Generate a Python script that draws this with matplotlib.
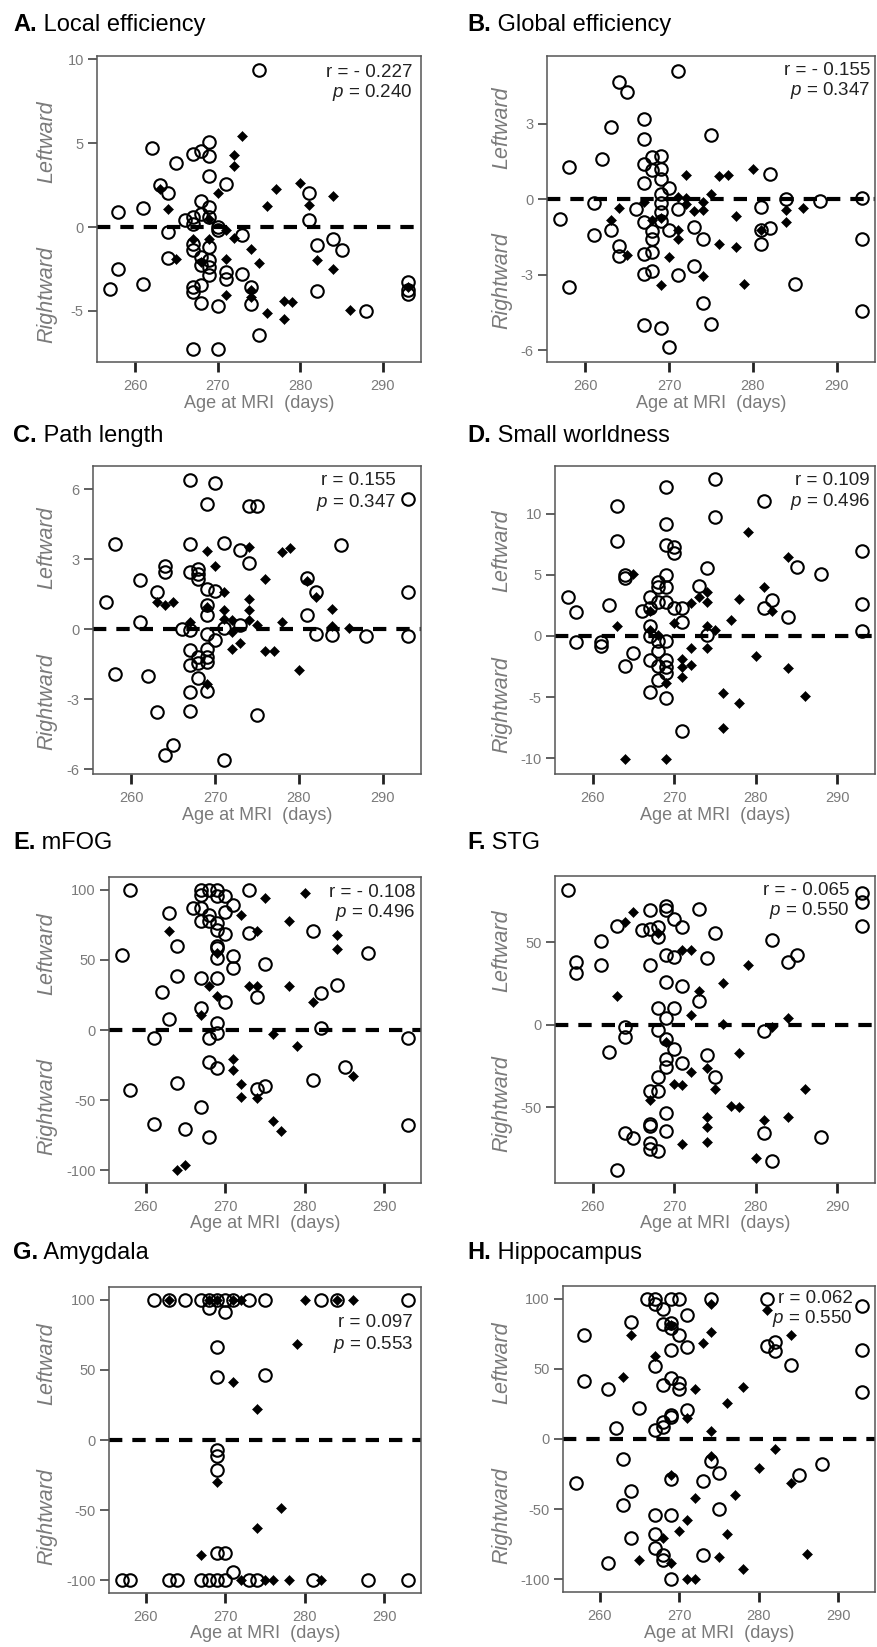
import matplotlib
matplotlib.use("Agg")
import matplotlib.pyplot as plt
import matplotlib.transforms as mtransforms

plt.rcParams.update({
    "font.family":       ["Liberation Sans", "DejaVu Sans"],
    "mathtext.fontset":  "custom",
    "mathtext.rm":       "Liberation Sans",
    "mathtext.it":       "Liberation Sans:italic",
    "axes.unicode_minus": False,
})

W, H = 878, 1647
GREY = "#7a7a7a"
XLIM = (255.4, 294.6)
XTICKS = [260, 270, 280, 290]

# ── data: open circles / filled diamonds, (age in days, asymmetry) ────────────

a_circ_age = [275, 262, 265, 267, 268, 269, 269, 269, 271, 263, 264, 258, 261, 268, 269,
              266, 267, 267, 268, 269, 270, 270, 264, 273, 267, 267, 269, 264, 268, 268,
              269, 269, 269, 271, 271, 273, 258, 257, 261, 267, 267, 268, 268, 270, 274,
              274, 275, 267, 270, 281, 281, 282, 284, 285, 282, 288, 293, 293, 293]
a_circ_val = [9.35, 4.72, 3.81, 4.33, 4.56, 5.06, 4.21, 3.02, 2.58, 2.52, 2.02, 0.89, 1.15, 1.53, 1.19,
              0.40, 0.60, 0.20, 0.79, 0.60, 0.00, -0.20, -0.30, -0.46, -1.00, -1.35, -1.20, -1.83, -1.79, -2.28,
              -1.98, -2.38, -2.84, -2.68, -3.08, -2.78, -2.48, -3.67, -3.41, -3.57, -3.87, -3.43, -4.52, -4.72, -3.57,
              -4.60, -6.45, -7.30, -7.30, 2.02, 0.44, -1.05, -0.69, -1.39, -3.83, -5.00, -3.27, -3.77, -3.97]
a_dia_age = [273, 272, 272, 270, 263, 264, 277, 276, 280, 281, 284, 269, 271, 272, 267, 269,
             274, 265, 271, 275, 268, 282, 284, 271, 274, 274, 276, 278, 279, 278, 286, 293]
a_dia_val = [5.40, 4.27, 3.61, 2.02, 2.28, 1.05, 2.28, 1.23, 2.62, 1.33, 1.88, 0.50, -0.20, -0.65, -0.69, -0.69,
             -1.29, -1.88, -1.88, -2.12, -2.08, -1.98, -2.48, -4.03, -3.77, -4.17, -5.12, -4.42, -4.46, -5.50, -4.96, -3.57]

b_circ_age = [271, 264, 265, 263, 267, 267, 275, 262, 258, 268, 269, 267, 268, 269, 269,
              267, 270, 269, 282, 261, 257, 266, 269, 269, 271, 267, 269, 270, 268, 268,
              261, 263, 264, 264, 273, 274, 267, 268, 267, 268, 271, 273, 258, 281, 284,
              288, 281, 282, 281, 285, 274, 267, 269, 275, 270, 293, 293, 293]
b_circ_val = [5.08, 4.64, 4.28, 2.87, 3.17, 2.39, 2.56, 1.60, 1.28, 1.69, 1.73, 1.41, 1.15, 1.21, 0.82,
              0.65, 0.43, 0.23, 0.99, -0.13, -0.77, -0.39, -0.16, -0.51, -0.39, -0.91, -0.87, -1.20, -1.26, -1.56,
              -1.43, -1.23, -1.85, -2.24, -1.10, -1.59, -2.18, -2.11, -2.96, -2.83, -3.00, -2.63, -3.48, -0.29, 0.00,
              -0.07, -1.20, -1.13, -1.79, -3.35, -4.13, -4.98, -5.11, -4.95, -5.85, 0.04, -1.59, -4.43]
b_dia_age = [272, 276, 277, 280, 275, 271, 272, 267, 274, 264, 263, 268, 269, 272, 273,
             274, 278, 284, 286, 284, 271, 271, 276, 278, 281, 265, 270, 274, 269, 279]
b_dia_val = [0.95, 0.93, 0.95, 1.21, 0.23, 0.10, 0.04, -0.09, -0.09, -0.35, -0.81, -0.81, -0.74, -0.18, -0.48,
             -0.42, -0.65, -0.44, -0.35, -0.91, -1.20, -1.56, -1.79, -1.89, -1.20, -2.22, -2.28, -3.05, -3.42, -3.35]

c_circ_age = [267, 270, 269, 274, 275, 293, 258, 267, 271, 273, 274, 285, 264, 264, 261,
              267, 268, 268, 268, 269, 270, 263, 257, 281, 282, 293, 269, 269, 261, 281,
              266, 267, 271, 273, 269, 270, 282, 284, 288, 293, 267, 268, 268, 269, 269,
              267, 269, 268, 258, 262, 267, 269, 263, 267, 275, 264, 265, 271]
c_circ_val = [6.39, 6.27, 5.36, 5.27, 5.27, 5.57, 3.67, 3.64, 3.70, 3.41, 2.84, 3.63, 2.71, 2.46, 2.10,
              2.46, 2.60, 2.39, 2.17, 1.74, 1.63, 1.60, 1.17, 2.20, 1.60, 1.60, 1.03, 0.63, 0.31, 0.60,
              0.03, -0.04, 0.06, 0.17, -0.19, -0.47, -0.19, -0.26, -0.29, -0.29, -0.90, -1.19, -1.43, -1.19, -1.40,
              -1.51, -0.83, -2.09, -1.90, -2.00, -2.69, -2.66, -3.54, -3.50, -3.69, -5.40, -4.94, -5.61]
c_dia_age = [269, 270, 274, 278, 279, 276, 281, 282, 271, 274, 263, 264, 265, 269, 271, 274,
             284, 267, 271, 272, 274, 275, 278, 284, 286, 272, 272, 273, 276, 277, 280, 269]
c_dia_val = [3.34, 2.71, 3.53, 3.31, 3.50, 2.17, 2.06, 1.39, 1.60, 1.31, 1.17, 1.03, 1.17, 0.96, 0.81, 0.81,
             0.89, 0.31, 0.46, 0.39, 0.39, 0.20, 0.31, 0.14, 0.06, -0.11, -0.83, -0.57, -0.94, -0.94, -1.76, -2.33]

d_circ_age = [275, 269, 263, 281, 275, 269, 263, 269, 270, 270, 274, 285, 288, 293, 264,
              264, 269, 268, 268, 269, 273, 267, 268, 269, 270, 271, 266, 267, 262, 257,
              258, 271, 282, 281, 284, 293, 293, 267, 267, 268, 269, 274, 258, 261, 261,
              265, 268, 264, 267, 268, 269, 269, 269, 268, 267, 269, 271]
d_circ_val = [12.84, 12.16, 10.66, 11.01, 9.73, 9.15, 7.79, 7.46, 7.24, 6.78, 5.55, 5.63, 5.05, 6.91, 5.00,
              4.73, 5.00, 4.45, 4.04, 4.04, 4.10, 3.22, 2.81, 2.81, 2.27, 2.27, 2.05, 2.27, 2.49, 3.22,
              1.99, 1.17, 2.95, 2.27, 1.58, 2.60, 0.36, 0.77, 0.00, -0.41, -0.41, 0.08, -0.46, -0.46, -0.82,
              -1.37, -1.23, -2.43, -1.97, -2.46, -1.97, -2.51, -3.06, -3.61, -4.56, -5.05, -7.79]
d_dia_age = [279, 284, 281, 265, 274, 273, 274, 272, 278, 282, 267, 277, 263, 270, 274, 275, 267,
             268, 272, 274, 271, 271, 272, 271, 269, 280, 284, 276, 278, 286, 276, 264, 269]
d_dia_val = [8.47, 6.45, 3.99, 5.05, 3.58, 3.22, 2.81, 2.68, 3.00, 2.05, 2.05, 1.26, 0.85, 1.09, 0.77, 0.49, 0.49,
             0.08, -1.01, -1.01, -1.91, -2.51, -2.38, -3.33, -3.88, -1.61, -2.65, -4.64, -5.46, -4.89, -7.51, -10.11, -10.11]

e_circ_age = [257, 258, 258, 263, 264, 264, 262, 263, 261, 261, 264, 265, 266, 267, 267,
              267, 267, 267, 267, 267, 268, 268, 268, 268, 268, 268, 269, 269, 269, 269,
              269, 269, 269, 269, 269, 269, 269, 270, 270, 270, 270, 271, 271, 271, 273,
              273, 274, 274, 275, 275, 281, 282, 282, 281, 284, 285, 288, 293, 293]
e_circ_val = [53.1, 100.0, -42.9, 83.3, 59.5, 38.8, 26.9, 8.1, -5.5, -67.1, -37.6, -70.7, 86.9, 100.0, 96.4,
              86.9, 77.9, 37.4, 15.5, -55.2, 100.0, 82.1, 77.4, -6.0, -22.6, -76.2, 100.0, 95.2, 76.2, 71.4,
              60.0, 58.3, 51.2, 37.4, 5.2, -2.4, -26.9, 95.2, 83.8, 68.3, 20.2, 89.3, 52.9, 44.0, 100.0,
              69.0, 23.8, -41.7, 47.1, -40.0, 70.7, 26.2, 1.2, -35.7, 32.1, -26.2, 55.2, -5.5, -67.4]
e_dia_age = [263, 272, 275, 280, 278, 274, 284, 284, 269, 268, 269, 273, 274, 278, 281, 267,
             276, 279, 271, 271, 272, 272, 274, 276, 277, 286, 264, 265]
e_dia_val = [70.2, 82.1, 94.0, 97.6, 77.4, 70.2, 67.4, 57.9, 54.8, 31.0, 24.3, 31.0, 31.0, 31.7, 20.2, 10.7,
             -3.1, -11.2, -21.0, -28.6, -38.8, -47.6, -48.3, -65.0, -71.9, -32.9, -100.0, -96.4]

f_circ_age = [257, 258, 258, 261, 261, 263, 266, 267, 267, 267, 268, 268, 269, 269, 269,
              269, 269, 270, 270, 270, 271, 271, 273, 273, 274, 275, 282, 284, 285, 293,
              293, 293, 268, 264, 264, 268, 262, 269, 270, 269, 269, 271, 268, 268, 267,
              274, 275, 269, 267, 267, 269, 264, 265, 267, 267, 268, 263, 281, 281, 282, 288]
f_circ_val = [81.8, 37.9, 31.2, 50.4, 36.2, 59.5, 57.1, 69.2, 58.1, 35.8, 59.1, 53.0, 71.7, 69.2, 41.9,
              25.7, 4.0, 64.2, 40.9, 9.9, 59.1, 23.1, 70.2, 14.2, 40.5, 55.5, 51.0, 37.9, 41.9, 79.4,
              74.3, 59.5, 9.9, -1.6, -7.7, -3.0, -16.8, -8.7, -14.8, -20.9, -25.5, -23.5, -32.0, -40.1, -40.5,
              -18.2, -31.6, -53.6, -60.3, -61.3, -64.4, -65.8, -68.8, -71.5, -75.5, -76.5, -88.3, -4.0, -66.0, -82.6, -68.4]
f_dia_age = [264, 265, 268, 271, 272, 279, 276, 273, 263, 272, 276, 284, 282, 269, 278, 272,
             274, 270, 271, 275, 267, 277, 278, 274, 274, 274, 271, 281, 284, 286, 280]
f_dia_val = [62.1, 68.2, 55.5, 44.9, 45.3, 36.2, 25.1, 20.2, 17.2, 5.5, 0.4, 4.0, -1.6, -10.3, -17.4, -28.9,
             -26.3, -36.0, -36.6, -39.1, -45.5, -49.2, -50.2, -55.9, -62.3, -70.9, -72.5, -57.7, -56.3, -39.1, -81.0]

g_circ_age = [261, 263, 265, 267, 268, 269, 270, 271, 273, 275, 282, 284, 293,
              268, 270, 269, 269, 275, 269, 269, 269, 269, 270, 271,
              257, 258, 263, 264, 267, 268, 269, 270, 273, 274, 281, 288, 293]
g_circ_val = [100, 100, 100, 100, 100, 100, 100, 100, 100, 100, 100, 100, 100,
              94.0, 91.0, 66.2, 45.2, 46.0, -7.1, -11.4, -21.4, -80.5, -80.5, -94.0,
              -100, -100, -100, -100, -100, -100, -100, -100, -100, -100, -100, -100, -100]
g_dia_age = [263, 268, 269, 271, 272, 280, 284, 286,
             279, 271, 274, 269, 277, 274, 267,
             272, 275, 276, 278, 282]
g_dia_val = [100, 100, 100, 100, 100, 100, 100, 100,
             68.6, 41.2, 21.9, -29.8, -48.1, -62.6, -82.1,
             -100, -100, -100, -100, -100]

h_circ_age = [266, 267, 269, 270, 274, 281, 267, 268, 271, 264, 268, 269, 269, 270, 258,
              271, 269, 281, 282, 282, 284, 293, 293, 293, 267, 258, 261, 268, 269, 270,
              270, 265, 271, 269, 269, 268, 268, 267, 262, 263, 257, 264, 263, 274, 275,
              273, 269, 275, 267, 269, 267, 264, 267, 268, 268, 261, 273, 269, 285, 288]
h_circ_val = [100.0, 100.0, 100.0, 100.0, 100.0, 100.0, 96.2, 92.9, 88.6, 83.3, 81.9, 82.6, 79.0, 73.8, 73.8,
              65.5, 63.1, 66.0, 69.0, 62.4, 52.4, 94.5, 63.6, 33.8, 52.1, 41.0, 35.7, 38.6, 43.3, 39.8,
              35.7, 21.9, 20.7, 17.1, 15.5, 11.9, 8.8, 6.4, 7.6, -14.5, -31.2, -37.1, -47.1, -15.5, -24.5,
              -29.8, -28.8, -50.0, -54.3, -53.8, -67.4, -70.5, -77.6, -82.4, -86.4, -88.1, -82.4, -99.5, -25.7, -17.9]
h_dia_age = [274, 281, 264, 269, 274, 273, 284, 267, 263, 272, 278, 276, 271, 274, 282, 280,
             274, 269, 284, 272, 277, 271, 270, 276, 268, 265, 275, 269, 278, 271, 272, 286]
h_dia_val = [96.4, 91.7, 73.8, 81.4, 76.0, 68.3, 74.3, 59.3, 44.0, 35.7, 37.4, 26.0, 15.2, 5.7, -7.4, -20.5,
             -11.9, -25.7, -31.2, -41.9, -40.0, -57.9, -65.5, -67.4, -70.5, -86.4, -84.0, -88.1, -92.9, -100.0, -100.0, -81.7]

# ── panel layout (pixel boxes: left, top, right, bottom) ─────────────────────

PANELS = [
    dict(letter="A.", name=" Local efficiency", circ=(a_circ_age, a_circ_val), dia=(a_dia_age, a_dia_val),
         box=(97, 56, 421, 362), ylim=(-8.05, 10.2), yticks=[-5, 0, 5, 10],
         r="r = - 0.227", p="0.240", txt=(413, 77, 97), col=0, row=0),
    dict(letter="B.", name=" Global efficiency", circ=(b_circ_age, b_circ_val), dia=(b_dia_age, b_dia_val),
         box=(547, 56, 875, 362), ylim=(-6.46, 5.69), yticks=[-6, -3, 0, 3],
         r="r = - 0.155", p="0.347", txt=(870, 75, 95), col=1, row=0),
    dict(letter="C.", name=" Path length", circ=(c_circ_age, c_circ_val), dia=(c_dia_age, c_dia_val),
         box=(93, 466, 421, 774), ylim=(-6.2, 7.0), yticks=[-6, -3, 0, 3, 6],
         r="r = 0.155", p="0.347", txt=(396, 485, 507), col=0, row=1),
    dict(letter="D.", name=" Small worldness", circ=(d_circ_age, d_circ_val), dia=(d_dia_age, d_dia_val),
         box=(555, 466, 875, 774), ylim=(-11.3, 13.9), yticks=[-10, -5, 0, 5, 10],
         r="r = 0.109", p="0.496", txt=(870, 485, 506), col=1, row=1),
    dict(letter="E.", name=" mFOG", circ=(e_circ_age, e_circ_val), dia=(e_dia_age, e_dia_val),
         box=(109, 877, 421, 1183), ylim=(-109, 109), yticks=[-100, -50, 0, 50, 100],
         r="r = - 0.108", p="0.496", txt=(415, 897, 917), col=0, row=2),
    dict(letter="F.", name=" STG", circ=(f_circ_age, f_circ_val), dia=(f_dia_age, f_dia_val),
         box=(555, 876, 875, 1183), ylim=(-96, 90), yticks=[-50, 0, 50],
         r="r = - 0.065", p="0.550", txt=(850, 895, 915), col=1, row=2),
    dict(letter="G.", name=" Amygdala", circ=(g_circ_age, g_circ_val), dia=(g_dia_age, g_dia_val),
         box=(109, 1287, 421, 1593), ylim=(-109, 109), yticks=[-100, -50, 0, 50, 100],
         r="r = 0.097", p="0.553", txt=(413, 1327, 1349), col=0, row=3),
    dict(letter="H.", name=" Hippocampus", circ=(h_circ_age, h_circ_val), dia=(h_dia_age, h_dia_val),
         box=(563, 1286, 875, 1592), ylim=(-109, 109), yticks=[-100, -50, 0, 50, 100],
         r="r = 0.062", p="0.550", txt=(853, 1303, 1323), col=1, row=3),
]

TITLE_X = [13, 467]
TITLE_BASE = [31, 442, 849, 1259]
SIDE_X = [47, 502]


def fx(px):
    return px / W


def fy(py):
    return 1 - py / H


fig = plt.figure(figsize=(W / 100, H / 100), dpi=100)
renderer = fig.canvas.get_renderer()

for p in PANELS:
    l, t, r, b = p["box"]
    ax = fig.add_axes([fx(l), fy(b), (r - l) / W, (b - t) / H])

    ax.axhline(0, color="black", lw=3, dashes=(3.2, 2.4), zorder=1)
    ax.plot(*p["circ"], ls="none", marker="o", ms=9, mfc="none", mec="black", mew=1.5, zorder=3)
    ax.plot(*p["dia"], ls="none", marker="D", ms=4.8, mfc="black", mec="black", mew=0.4, zorder=4)

    ax.set_xlim(*XLIM)
    ax.set_ylim(*p["ylim"])
    ax.set_xticks(XTICKS)
    ax.set_yticks(p["yticks"])
    ax.tick_params(axis="x", length=7, width=2, color="#222222", pad=5,
                   labelsize=10.5, labelcolor=GREY)
    ax.tick_params(axis="y", length=6.5, width=1.2, color="#444444", pad=3,
                   labelsize=10.5, labelcolor=GREY)
    for s in ax.spines.values():
        s.set_color("#555555")
        s.set_linewidth(1.1)

    # correlation text
    rx, ry, py_ = p["txt"]
    fig.text(fx(rx), fy(ry), p["r"], ha="right", va="baseline", fontsize=13.5, color="#222222")
    fig.text(fx(rx), fy(py_), "$p$ = " + p["p"], ha="right", va="baseline", fontsize=13.5, color="#222222")

    # x label
    fig.text(fx((l + r) / 2), fy(b + 41), "Age at MRI  (days)", ha="center", va="center",
             fontsize=13, color=GREY)

    # Leftward / Rightward side labels
    trans = mtransforms.blended_transform_factory(fig.transFigure, ax.transData)
    lo, hi = p["ylim"]
    ax.text(fx(SIDE_X[p["col"]]), hi / 2, "Leftward", transform=trans, rotation=90,
            ha="center", va="center", fontsize=15.5, style="italic", color=GREY)
    ax.text(fx(SIDE_X[p["col"]]), lo / 2, "Rightward", transform=trans, rotation=90,
            ha="center", va="center", fontsize=15.5, style="italic", color=GREY)

    # panel title: bold letter, regular name
    tx, tb = TITLE_X[p["col"]], TITLE_BASE[p["row"]]
    t1 = fig.text(fx(tx), fy(tb), p["letter"], ha="left", va="baseline",
                  fontsize=17, fontweight="bold", color="black")
    bb = t1.get_window_extent(renderer)
    fig.text(bb.x1 / fig.bbox.width, fy(tb), p["name"], ha="left", va="baseline",
             fontsize=17, color="black")

fig.savefig("out.png", dpi=100, facecolor="white")
